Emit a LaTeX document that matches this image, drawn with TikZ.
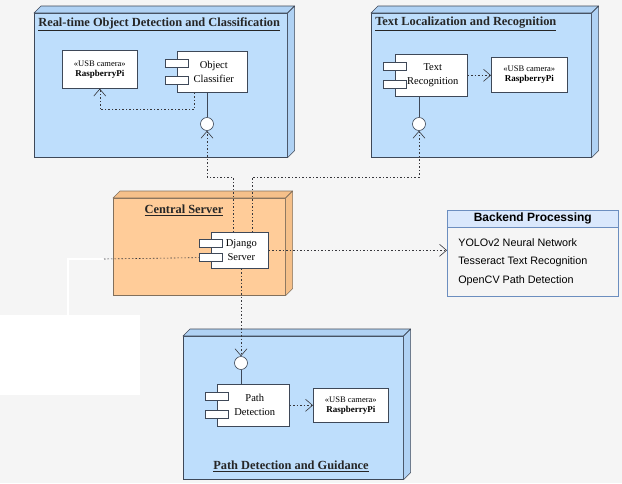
\documentclass[tikz,border=0pt]{standalone}
\usepackage{fontspec}
\setmainfont{Liberation Serif}
\newfontfamily\sansf{Liberation Sans}
\usetikzlibrary{arrows.meta, positioning, calc}

\definecolor{bgcol}{RGB}{245,245,245}
\definecolor{nodeblue}{RGB}{190,222,252}
\definecolor{sideblue}{RGB}{176,210,244}
\definecolor{nodeorange}{RGB}{255,204,153}
\definecolor{sideorange}{RGB}{245,192,138}
\definecolor{edge}{RGB}{62,72,88}
\definecolor{orangeedge}{RGB}{130,112,92}
\definecolor{depcol}{RGB}{55,55,60}
\definecolor{hdrblue}{RGB}{218,232,252}
\definecolor{hdredge}{RGB}{108,142,191}

\begin{document}
\begin{tikzpicture}[x = 1pt, y = -1pt, % pixel grid, y runs down
    > = {Straight Barb[length=7pt, width=12pt]}, % open arrow head
    semithick % line style
  ]

  \tikzstyle{node3d}=[draw = edge, fill = nodeblue, anchor = north west,
  inner sep = 0pt]
  \tikzstyle{face3d}=[draw = edge, fill = sideblue, line join = round]
  \tikzstyle{title}=[font = \fontsize{12.4}{14}\selectfont\bfseries,
  text = black!85, inner sep = 0pt]
  \tikzstyle{comp}=[draw = edge, fill = white, anchor = north west,
  align = center, inner sep = 0pt, font = \fontsize{10.5}{14}\selectfont]
  \tikzstyle{device}=[draw = edge, fill = white, anchor = north west,
  align = center, inner sep = 0pt, font = \fontsize{8.5}{10}\selectfont]
  \tikzstyle{iface}=[draw = edge, fill = white, circle, inner sep = 0pt,
  minimum size = 13pt]
  \tikzstyle{port}=[draw = edge, fill = white]
  \tikzstyle{dep}=[draw = depcol, dash pattern = on 1.5pt off 2pt, ->]
  \tikzstyle{dots}=[draw = depcol, dash pattern = on 1.5pt off 2pt]

  % canvas
  \fill[bgcol] (0,0) rectangle (622,483);
  \useasboundingbox (0,0) rectangle (622,483);
  \node[fill = white, anchor = north west, inner sep = 0pt,
  minimum width = 140pt, minimum height = 80pt] (blank) at (0,315) {};

  % 3d nodes
  \node[node3d, minimum width = 253pt, minimum height = 144pt] (rt) at (34,13) {};
  \node[node3d, minimum width = 220pt, minimum height = 144pt] (tl) at (371,13) {};
  \node[node3d, fill = nodeorange, draw = orangeedge, minimum width = 172pt,
  minimum height = 97pt] (cs) at (113,198) {};
  \node[node3d, minimum width = 220pt, minimum height = 143pt] (pg) at (183,336) {};

  \foreach \n/\c/\f in {rt/edge/sideblue, tl/edge/sideblue,
    cs/orangeedge/sideorange, pg/edge/sideblue} {
    \draw[face3d, draw = \c, fill = \f] (\n.north west) -- ++(7,-7)
    -- ($(\n.north east)+(7,-7)$) -- (\n.north east) -- cycle;
    \draw[face3d, draw = \c, fill = \f] (\n.north east) -- ++(7,-7)
    -- ($(\n.south east)+(7,-7)$) -- (\n.south east) -- cycle;
  }

  \node[title, anchor = west] (rt-t) at (38,24)
  {\underline{Real-time Object Detection and Classification}};
  \node[title, anchor = west] (tl-t) at (375,24)
  {\underline{Text Localization and Recognition}};
  \node[title] (cs-t) at (184,210) {\underline{Central Server}};
  \node[title] (pg-t) at (291,466) {\underline{Path Detection and Guidance}};

  % devices
  \node[device, minimum width = 75pt, minimum height = 38pt] (rp1) at (62,50)
  {«USB camera»\\\fontsize{9}{10}\selectfont\bfseries RaspberryPi};
  \node[device, minimum width = 76pt, minimum height = 35pt] (rp2) at (491,57)
  {«USB camera»\\\fontsize{9}{10}\selectfont\bfseries RaspberryPi};
  \node[device, minimum width = 75pt, minimum height = 34pt] (rp3) at (313,388)
  {«USB camera»\\\fontsize{9}{10}\selectfont\bfseries RaspberryPi};

  % components (text sits right of the ports)
  \node[comp, minimum width = 70pt, minimum height = 41pt] (oc) at (177,51)
  {\hspace*{3pt}Object\\\hspace*{3pt}Classifier};
  \node[comp, minimum width = 72pt, minimum height = 42pt] (tr) at (395,54)
  {\hspace*{3pt}Text\\\hspace*{3pt}Recognition};
  \node[comp, minimum width = 57pt, minimum height = 36pt] (dj) at (211,232)
  {\hspace*{3pt}Django\\\hspace*{3pt}Server};
  \node[comp, minimum width = 72pt, minimum height = 42pt] (pd) at (217,384)
  {\hspace*{3pt}Path\\\hspace*{3pt}Detection};

  \foreach \c in {oc, tr, dj, pd} {
    \coordinate (\c-a) at ($(\c.north west)!0.3!(\c.south west)$);
    \coordinate (\c-b) at ($(\c.north west)!0.7!(\c.south west)$);
    \draw[port] (\c-a) +(-12,-4) rectangle +(11,4);
    \draw[port] (\c-b) +(-12,-4) rectangle +(11,4);
  }

  % interfaces
  \node[iface] (if1) at (207,124) {};
  \node[iface] (if2) at (419,124) {};
  \node[iface] (if4) at (241,363) {};
  \draw[edge] (if1 |- oc.south) -- (if1.north);
  \draw[edge] (if2 |- tr.south) -- (if2.north);
  \draw[edge] (if4 |- pd.north) -- (if4.south);

  % backend box
  \node[draw = hdredge, fill = hdrblue, anchor = north west, inner sep = 0pt,
  minimum width = 171pt, minimum height = 17pt,
  font = \sansf\fontsize{12}{13}\selectfont\bfseries] (bph) at (447,210)
  {Backend Processing};
  \node[draw = hdredge, fill = bgcol, anchor = north west, inner sep = 0pt,
  minimum width = 171pt, minimum height = 69pt] (bp) at (447,227) {};
  \node[anchor = west, align = left, inner sep = 0pt,
  font = \sansf\fontsize{10.8}{18.5}\selectfont] (bp-t) at (458,262)
  {YOLOv2 Neural Network\\Tesseract Text Recognition\\OpenCV Path Detection};

  % connectors
  \draw[dep] ([xshift=-18pt]oc.south) -- ++(0,17) -| (rp1.south);
  \draw[dep] (tr.east) -- (tr.east -| rp2.west);
  \draw[dep] (pd.east) -- (pd.east -| rp3.west);
  \draw[dep] ([xshift=-6.5pt]dj.north) -- ++(0,-55) -| (if1.south);
  \draw[dep] ([xshift=12.5pt]dj.north) -- ++(0,-55) -| (if2.south);
  \draw[dep] (dj.south -| if4) -- (if4.north);
  \draw[dep] (dj.east) -- (dj.east -| bp.west);

  \coordinate (bend) at (104,259);
  \draw[white, line width = 2pt] ([xshift=-2.5pt]blank.north) |- (bend);
  \draw[dots] (bend) -- ([xshift=-12pt]dj-b);
\end{tikzpicture}
\end{document}
